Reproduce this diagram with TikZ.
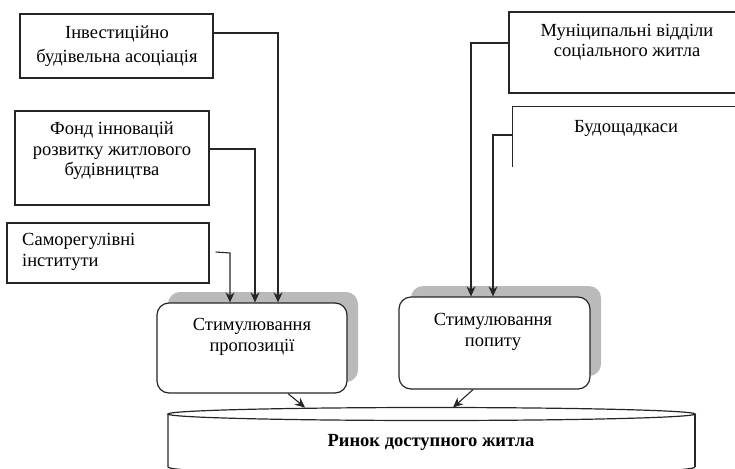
\documentclass[tikz,border=0pt]{standalone}
\usepackage{fontspec}
\setmainfont{Liberation Serif}
\usetikzlibrary{arrows.meta,calc}
\begin{document}
\begin{tikzpicture}[x=1pt,y=-1pt,
  box/.style={draw=black!85,line width=1.3pt,rectangle,inner sep=0pt},
  rbox/.style={draw=black!85,line width=1.2pt,rounded corners=12pt,fill=white,inner sep=0pt},
  txt/.style={font=\fontsize{18.5}{20.5}\selectfont,align=center,inner sep=0pt},
  conn/.style={draw=black!85,line width=1.1pt},
  arr/.style={conn,-{Stealth[length=10pt,width=9pt]}}]
\useasboundingbox (0,0) rectangle (735,468);
\clip (0,0) rectangle (735,468);

% shadows
\fill[black!27,rounded corners=12pt] (168,292) rectangle (358,382);
\fill[black!27,rounded corners=12pt] (411,286) rectangle (601,376);

% left boxes
\node[box,minimum width=193pt,minimum height=64pt] (inv) at (116.5,46) {};
\node[box,minimum width=194pt,minimum height=94pt] (fond) at (112,158) {};
\node[box,minimum width=202pt,minimum height=60pt] (samo) at (108,253) {};

% right boxes
\node[box,minimum width=251pt,minimum height=81pt] (mun) at (634.5,52.5) {};
\node[inner sep=0pt,minimum width=247pt,minimum height=60pt] (bud) at (636.5,137) {};
\draw[black!85,line width=1.3pt] (bud.south west) -- (bud.north west) -- (bud.north east);

% stimulation boxes
\node[rbox,minimum width=190pt,minimum height=90pt] (s1) at (252,348) {};
\node[rbox,minimum width=191pt,minimum height=92pt] (s2) at (494.5,343) {};

% cylinder
\coordinate (cl) at (168,414);
\coordinate (cr) at (695,414);
\draw[black!85,line width=1.2pt] (431.5,414) ellipse [x radius=263.5pt,y radius=6.5pt];
\draw[black!85,line width=1.2pt] (cl) -- (168,467) arc[start angle=180,end angle=360,x radius=263.5pt,y radius=8pt];
\draw[black!85,line width=1.2pt] (cr) -- (695,467);
\node[font=\fontsize{18.5}{20}\selectfont\bfseries,inner sep=0pt] (rin) at (431,442) {Ринок доступного житла};
\coordinate (c1) at (305,407.5);
\coordinate (c2) at (453,407.5);

% texts
\node[txt,font=\fontsize{18.5}{24}\selectfont] (tinv) at (117,46) {Інвестиційно\\будівельна асоціація};
\node[txt] (tfond) at (112,151) {Фонд інновацій\\розвитку житлового\\будівництва};
\node[txt,align=left,anchor=west] (tsamo) at (22,252) {Саморегулівні\\інститути};
\node[txt] (ts1) at (252,337) {Стимулювання\\пропозиції};
\node[txt] (ts2) at (493,332) {Стимулювання\\попиту};
\node[txt] (tmun) at (627,42) {Муніципальні відділи\\соціального житла};
\node[txt] (tbud) at (626,128) {Будощадкаси};

% connectors
\draw[arr] (inv.east |- 0,33) -- (278,33) -- (278,0 |- s1.north);
\draw[arr] (fond.east |- 0,149) -- (255,149) -- (255,0 |- s1.north);
\draw[arr] ($(samo.east)+(6,-1)$) -- (230,253) -- (230,0 |- s1.north);
\draw[arr] (mun.west |- 0,43) -- (471,43) -- (471,0 |- s2.north);
\draw[arr] (bud.west |- 0,135) -- (493,135) -- (493,0 |- s2.north);
\draw[arr] (288,0 |- s1.south) -- (c1);
\draw[arr] (473,0 |- s2.south) -- (c2);
\end{tikzpicture}
\end{document}
